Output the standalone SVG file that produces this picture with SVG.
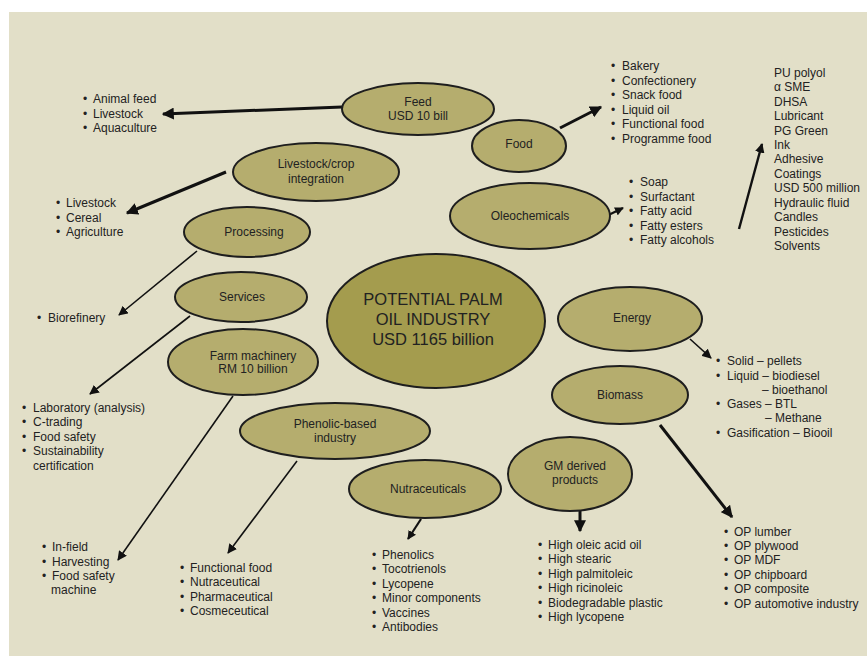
<svg xmlns="http://www.w3.org/2000/svg" width="867" height="657" viewBox="0 0 867 657">
<defs>
<style>
.bg{fill:#e2dfc8}
.n{fill:#b5ad6e;stroke:#1e1e1e;stroke-width:2}
.c{fill:#a49c4e;stroke:#1e1e1e;stroke-width:2}
text{font-family:"Liberation Sans",Arial,sans-serif;fill:#222}
.nt{font-size:12px;text-anchor:middle}
.ct{font-size:16.5px;text-anchor:middle}
.l{font-size:12px}
.thick{stroke:#111;stroke-width:3;fill:none}
.thin{stroke:#111;stroke-width:1.6;fill:none}
</style>
<marker id="ah" viewBox="0 0 10 10" refX="9" refY="5" markerWidth="4" markerHeight="4" orient="auto" markerUnits="strokeWidth"><path d="M0,0 L10,5 L0,10 z" fill="#111"/></marker>
<marker id="ahs" viewBox="0 0 10 10" refX="9" refY="5" markerWidth="6" markerHeight="6" orient="auto" markerUnits="strokeWidth"><path d="M0,0 L10,5 L0,10 z" fill="#111"/></marker>
</defs>
<rect class="bg" x="9" y="12" width="858" height="644"/>

<g id="connectors">
<line class="thick" x1="342" y1="107" x2="163" y2="114" marker-end="url(#ah)"/>
<line class="thick" x1="226" y1="172" x2="127" y2="213" marker-end="url(#ah)"/>
<line class="thin" x1="197" y1="251" x2="119" y2="315" marker-end="url(#ahs)"/>
<line class="thin" x1="190" y1="316" x2="90" y2="394" marker-end="url(#ahs)"/>
<line class="thin" x1="233" y1="396" x2="118" y2="560" marker-end="url(#ahs)"/>
<line class="thin" x1="297" y1="461" x2="228" y2="553" marker-end="url(#ahs)"/>
<line class="thick" x1="421" y1="519" x2="408" y2="539" marker-end="url(#ah)" style="stroke-width:2.2"/>
<line class="thick" x1="580" y1="511" x2="580" y2="531" marker-end="url(#ah)"/>
<line class="thick" x1="660" y1="425" x2="732" y2="517" marker-end="url(#ah)"/>
<line class="thin" x1="690" y1="339" x2="711" y2="358" marker-end="url(#ahs)"/>
<line class="thick" x1="560" y1="128" x2="601" y2="107" marker-end="url(#ah)"/>
<line class="thick" x1="596" y1="221" x2="623" y2="208" marker-end="url(#ah)" style="stroke-width:2.2"/>
<line class="thick" x1="739" y1="229" x2="762" y2="144" marker-end="url(#ah)" style="stroke-width:2.4"/>
</g>

<g id="feed"><ellipse class="n" cx="418" cy="109" rx="76" ry="26"/><text class="nt" x="418" y="106">Feed</text><text class="nt" x="418" y="120">USD 10 bill</text></g>
<g id="food"><ellipse class="n" cx="519" cy="146" rx="47" ry="26"/><text class="nt" x="519" y="148">Food</text></g>
<g id="livestock"><ellipse class="n" cx="316" cy="172" rx="83" ry="29"/><text class="nt" x="316" y="168">Livestock/crop</text><text class="nt" x="316" y="183">integration</text></g>
<g id="oleochemicals"><ellipse class="n" cx="530" cy="216" rx="80" ry="33"/><text class="nt" x="530" y="220">Oleochemicals</text></g>
<g id="processing"><ellipse class="n" cx="247" cy="232" rx="63" ry="25"/><text class="nt" x="254" y="236">Processing</text></g>
<g id="services"><ellipse class="n" cx="241" cy="297" rx="66" ry="25"/><text class="nt" x="242" y="301">Services</text></g>
<g id="farm"><ellipse class="n" cx="243" cy="362" rx="75" ry="33"/><text class="nt" x="253" y="360">Farm machinery</text><text class="nt" x="253" y="373">RM 10 billion</text></g>
<g id="center"><ellipse class="c" cx="436" cy="321" rx="109" ry="67"/><text class="ct" x="433" y="305">POTENTIAL PALM</text><text class="ct" x="433" y="325">OIL INDUSTRY</text><text class="ct" x="433" y="345">USD 1165 billion</text></g>
<g id="phenolic"><ellipse class="n" cx="335" cy="431" rx="95" ry="28"/><text class="nt" x="335" y="428">Phenolic-based</text><text class="nt" x="335" y="442">industry</text></g>
<g id="energy"><ellipse class="n" cx="630" cy="319" rx="72" ry="32"/><text class="nt" x="632" y="322">Energy</text></g>
<g id="biomass"><ellipse class="n" cx="620" cy="395" rx="68" ry="29"/><text class="nt" x="620" y="399">Biomass</text></g>
<g id="gm"><ellipse class="n" cx="570" cy="474" rx="62" ry="37"/><text class="nt" x="575" y="470">GM derived</text><text class="nt" x="575" y="484">products</text></g>
<g id="nutra"><ellipse class="n" cx="425" cy="489" rx="76" ry="29"/><text class="nt" x="428" y="493">Nutraceuticals</text></g>

<g id="list-feed" class="l">
<text class="l" x="83" y="103">•</text><text class="l" x="93" y="103">Animal feed</text>
<text class="l" x="83" y="118">•</text><text class="l" x="93" y="118">Livestock</text>
<text class="l" x="83" y="132">•</text><text class="l" x="93" y="132">Aquaculture</text>
</g>
<g id="list-livestock">
<text class="l" x="56" y="207">•</text><text class="l" x="66" y="207">Livestock</text>
<text class="l" x="56" y="222">•</text><text class="l" x="66" y="222">Cereal</text>
<text class="l" x="56" y="236">•</text><text class="l" x="66" y="236">Agriculture</text>
</g>
<g id="list-processing">
<text class="l" x="37" y="322">•</text><text class="l" x="48" y="322">Biorefinery</text>
</g>
<g id="list-services">
<text class="l" x="22" y="412">•</text><text class="l" x="33" y="412">Laboratory (analysis)</text>
<text class="l" x="22" y="426">•</text><text class="l" x="33" y="426">C-trading</text>
<text class="l" x="22" y="441">•</text><text class="l" x="33" y="441">Food safety</text>
<text class="l" x="22" y="455">•</text><text class="l" x="33" y="455">Sustainability</text>
<text class="l" x="33" y="470">certification</text>
</g>
<g id="list-farm">
<text class="l" x="42" y="551">•</text><text class="l" x="52" y="551">In-field</text>
<text class="l" x="42" y="566">•</text><text class="l" x="52" y="566">Harvesting</text>
<text class="l" x="42" y="580">•</text><text class="l" x="52" y="580">Food safety</text>
<text class="l" x="51" y="594">machine</text>
</g>
<g id="list-phenolic">
<text class="l" x="180" y="572">•</text><text class="l" x="190" y="572">Functional food</text>
<text class="l" x="180" y="586">•</text><text class="l" x="190" y="586">Nutraceutical</text>
<text class="l" x="180" y="601">•</text><text class="l" x="190" y="601">Pharmaceutical</text>
<text class="l" x="180" y="615">•</text><text class="l" x="190" y="615">Cosmeceutical</text>
</g>
<g id="list-nutra">
<text class="l" x="372" y="559">•</text><text class="l" x="382" y="559">Phenolics</text>
<text class="l" x="372" y="573">•</text><text class="l" x="382" y="573">Tocotrienols</text>
<text class="l" x="372" y="588">•</text><text class="l" x="382" y="588">Lycopene</text>
<text class="l" x="372" y="602">•</text><text class="l" x="382" y="602">Minor components</text>
<text class="l" x="372" y="617">•</text><text class="l" x="382" y="617">Vaccines</text>
<text class="l" x="372" y="631">•</text><text class="l" x="382" y="631">Antibodies</text>
</g>
<g id="list-gm">
<text class="l" x="538" y="549">•</text><text class="l" x="548" y="549">High oleic acid oil</text>
<text class="l" x="538" y="563">•</text><text class="l" x="548" y="563">High stearic</text>
<text class="l" x="538" y="578">•</text><text class="l" x="548" y="578">High palmitoleic</text>
<text class="l" x="538" y="592">•</text><text class="l" x="548" y="592">High ricinoleic</text>
<text class="l" x="538" y="607">•</text><text class="l" x="548" y="607">Biodegradable plastic</text>
<text class="l" x="538" y="621">•</text><text class="l" x="548" y="621">High lycopene</text>
</g>
<g id="list-biomass">
<text class="l" x="724" y="536">•</text><text class="l" x="734" y="536">OP lumber</text>
<text class="l" x="724" y="550">•</text><text class="l" x="734" y="550">OP plywood</text>
<text class="l" x="724" y="564">•</text><text class="l" x="734" y="564">OP MDF</text>
<text class="l" x="724" y="579">•</text><text class="l" x="734" y="579">OP chipboard</text>
<text class="l" x="724" y="593">•</text><text class="l" x="734" y="593">OP composite</text>
<text class="l" x="724" y="608">•</text><text class="l" x="734" y="608">OP automotive industry</text>
</g>
<g id="list-energy">
<text class="l" x="716" y="365">•</text><text class="l" x="727" y="365">Solid – pellets</text>
<text class="l" x="716" y="380">•</text><text class="l" x="727" y="380">Liquid – biodiesel</text>
<text class="l" x="762" y="394">– bioethanol</text>
<text class="l" x="716" y="408">•</text><text class="l" x="727" y="408">Gases – BTL</text>
<text class="l" x="765" y="422">– Methane</text>
<text class="l" x="716" y="437">•</text><text class="l" x="727" y="437">Gasification – Biooil</text>
</g>
<g id="list-food">
<text class="l" x="611" y="70">•</text><text class="l" x="622" y="70">Bakery</text>
<text class="l" x="611" y="85">•</text><text class="l" x="622" y="85">Confectionery</text>
<text class="l" x="611" y="99">•</text><text class="l" x="622" y="99">Snack food</text>
<text class="l" x="611" y="114">•</text><text class="l" x="622" y="114">Liquid oil</text>
<text class="l" x="611" y="128">•</text><text class="l" x="622" y="128">Functional food</text>
<text class="l" x="611" y="143">•</text><text class="l" x="622" y="143">Programme food</text>
</g>
<g id="list-oleo">
<text class="l" x="629" y="186">•</text><text class="l" x="640" y="186">Soap</text>
<text class="l" x="629" y="201">•</text><text class="l" x="640" y="201">Surfactant</text>
<text class="l" x="629" y="215">•</text><text class="l" x="640" y="215">Fatty acid</text>
<text class="l" x="629" y="230">•</text><text class="l" x="640" y="230">Fatty esters</text>
<text class="l" x="629" y="244">•</text><text class="l" x="640" y="244">Fatty alcohols</text>
</g>
<g id="list-pu">
<text class="l" x="774" y="77">PU polyol</text>
<text class="l" x="774" y="91">α SME</text>
<text class="l" x="774" y="106">DHSA</text>
<text class="l" x="774" y="120">Lubricant</text>
<text class="l" x="774" y="135">PG Green</text>
<text class="l" x="774" y="149">Ink</text>
<text class="l" x="774" y="163">Adhesive</text>
<text class="l" x="774" y="178">Coatings</text>
<text class="l" x="774" y="192">USD 500 million</text>
<text class="l" x="774" y="207">Hydraulic fluid</text>
<text class="l" x="774" y="221">Candles</text>
<text class="l" x="774" y="236">Pesticides</text>
<text class="l" x="774" y="250">Solvents</text>
</g>
</svg>
